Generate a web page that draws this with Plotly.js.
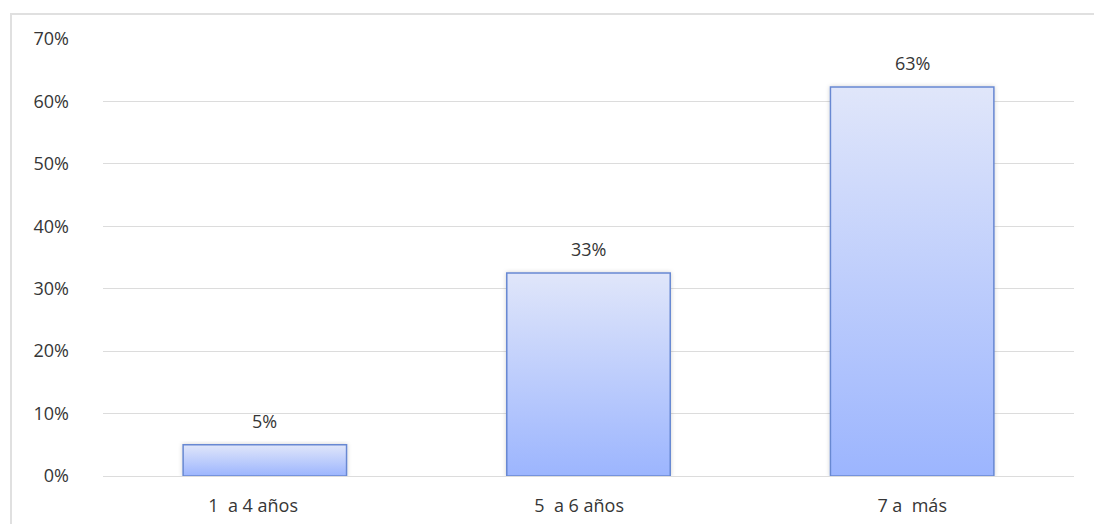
<!DOCTYPE html>
<html>
<head>
<meta charset="utf-8">
<script src="https://cdn.plot.ly/plotly-3.0.1.min.js"></script>
<style>
  html, body { margin: 0; padding: 0; background: #fff; }
  #wrap { position: relative; width: 1094px; height: 524px; overflow: hidden; }
  #chart { position: absolute; left: 0; top: 0; width: 1094px; height: 524px; }
  #frame { position: absolute; left: 10px; top: 13px; width: 1200px; height: 600px;
           border-left: 2px solid #e0e0e0; border-top: 2px solid #e0e0e0; pointer-events: none; }
</style>
</head>
<body>
<div id="wrap">
  <div id="chart"></div>
  <div id="frame"></div>
</div>
<script>
const categories = ["1\u00a0 a 4 años\u00a0\u00a0\u00a0\u00a0\u00a0", "5\u00a0 a 6 años\u00a0\u00a0\u00a0\u00a0", "7 a\u00a0 más"];
const values = [0.050, 0.325, 0.623];
const valueLabels = ["5%", "33%", "63%"];
const yTickValues = [0, 0.1, 0.2, 0.3, 0.4, 0.5, 0.6, 0.7];
const yTickLabels = ["0%", "10%", "20%", "30%", "40%", "50%", "60%", "70%"];

const font = { family: "Open Sans, Noto Sans, sans-serif", size: 18, color: "#363636" };

const trace = {
  type: "bar",
  x: categories,
  y: values,
  marker: { color: "#b8c8fc", line: { color: "#6788d2", width: 1.5 } },
  hoverinfo: "none"
};

const annotations = categories.map((c, i) => ({
  x: c, y: values[i], xref: "x", yref: "y",
  text: valueLabels[i], showarrow: false,
  yanchor: "bottom", yshift: 10,
  font: font
}));

const layout = {
  width: 1094, height: 524,
  margin: { l: 103, r: 20, t: 39, b: 48 },
  paper_bgcolor: "rgba(0,0,0,0)",
  plot_bgcolor: "rgba(0,0,0,0)",
  bargap: 0.495,
  showlegend: false,
  font: font,
  xaxis: {
    type: "category",
    showgrid: false, zeroline: false, showline: false,
    ticks: "", tickfont: font, ticklabelstandoff: 17
  },
  yaxis: {
    range: [0, 0.7],
    tickvals: yTickValues, ticktext: yTickLabels,
    showgrid: true, gridcolor: "#dcdcdc", gridwidth: 1,
    zeroline: true, zerolinecolor: "#dcdcdc", zerolinewidth: 1,
    showline: false, ticks: "", tickfont: font,
    ticklabelstandoff: 33
  },
  annotations: annotations
};

Plotly.newPlot("chart", [trace], layout, { staticPlot: true, displayModeBar: false }).then(gd => {
  const svg = gd.querySelector("svg.main-svg");
  const ns = "http://www.w3.org/2000/svg";
  let defs = svg.querySelector("defs");
  if (!defs) { defs = document.createElementNS(ns, "defs"); svg.insertBefore(defs, svg.firstChild); }
  const grad = document.createElementNS(ns, "linearGradient");
  grad.setAttribute("id", "barGrad");
  grad.setAttribute("x1", "0"); grad.setAttribute("y1", "0");
  grad.setAttribute("x2", "0"); grad.setAttribute("y2", "1");
  [["0", "#e0e6fa"], ["1", "#9cb5fe"]].forEach(([o, c]) => {
    const s = document.createElementNS(ns, "stop");
    s.setAttribute("offset", o); s.setAttribute("stop-color", c);
    grad.appendChild(s);
  });
  defs.appendChild(grad);
  const filt = document.createElementNS(ns, "filter");
  filt.setAttribute("id", "barShadow");
  filt.setAttribute("x", "-10%"); filt.setAttribute("y", "-10%");
  filt.setAttribute("width", "120%"); filt.setAttribute("height", "120%");
  filt.innerHTML = '<feDropShadow dx="0" dy="0" stdDeviation="2" flood-color="#000" flood-opacity="0.18"/>';
  defs.appendChild(filt);
  gd.querySelectorAll(".bars .point path").forEach(p => {
    p.style.fill = "url(#barGrad)";
    p.style.fillOpacity = "1";
    p.setAttribute("filter", "url(#barShadow)");
  });
});
</script>
</body>
</html>
